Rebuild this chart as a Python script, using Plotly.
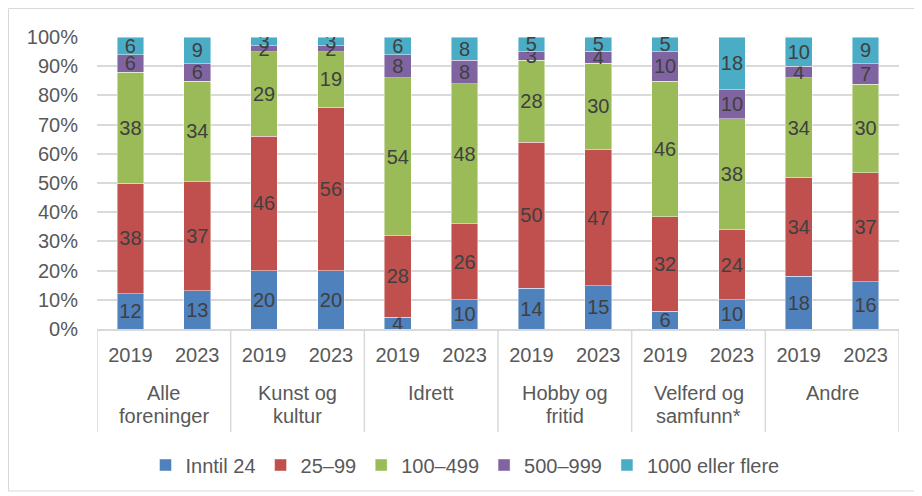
import plotly.graph_objects as go

groups = [["Alle", "foreninger"], ["Kunst og", "kultur"], ["Idrett"], ["Hobby og", "fritid"], ["Velferd og", "samfunn*"], ["Andre"]]
years = ["2019", "2023"]
series_names = ["Inntil 24", "25–99", "100–499", "500–999", "1000 eller flere"]

inntil_24 = [12, 13, 20, 20, 4, 10, 14, 15, 6, 10, 18, 16]
s25_99 = [38, 37, 46, 56, 28, 26, 50, 47, 32, 24, 34, 37]
s100_499 = [38, 34, 29, 19, 54, 48, 28, 30, 46, 38, 34, 30]
s500_999 = [6, 6, 2, 2, 8, 8, 3, 4, 10, 10, 4, 7]
s1000 = [6, 9, 3, 3, 6, 8, 5, 5, 5, 18, 10, 9]

colors = ["#4f81bd", "#c0504d", "#9bbb59", "#8064a2", "#4bacc6"]
series_values = [inntil_24, s25_99, s100_499, s500_999, s1000]

n_years = len(years)
xpos = list(range(len(groups) * n_years))
tick_text = [y for _ in groups for y in years]

FONT = "Liberation Sans, Arial, sans-serif"
TXT = "#595959"

# page is rendered with an 8px body offset; figure coords = page coords - 8
OFF = 8
W, H = 922 - OFF, 496 - OFF
L, R, T, B = 97 - OFF, 899 - OFF, 37 - OFF, 329 - OFF

def py(y):
    return (B - (y - OFF)) / (B - T)

fig = go.Figure()
for name, vals, col in zip(series_names, series_values, colors):
    fig.add_trace(go.Bar(
        x=xpos, y=vals, name=name,
        marker=dict(color=col, line=dict(color="rgba(255,255,255,0.6)", width=0.75)),
        text=vals, texttemplate="%{text}", textposition="inside",
        insidetextanchor="middle", textangle=0,
        textfont=dict(family=FONT, size=20, color="#404040"),
    ))

shapes = []
# group dividers below the axis
for gi in range(len(groups) + 1):
    xd = gi * n_years - 0.5
    shapes.append(dict(type="line", xref="x", yref="paper", x0=xd, x1=xd,
                       y0=0, y1=py(432), line=dict(color="#d9d9d9", width=1.5)))
# outer border of the chart
shapes.append(dict(type="rect", xref="paper", yref="paper",
                   x0=(0.5 - L) / (R - L), x1=(908 - L) / (R - L),
                   y0=py(491), y1=(B - 0.5) / (B - T),
                   line=dict(color="#d9d9d9", width=1), fillcolor="rgba(0,0,0,0)", layer="below"))

annotations = []
line_y = [393, 416]
for gi, lines in enumerate(groups):
    xc = gi * n_years + (n_years - 1) / 2
    for li, t in enumerate(lines):
        annotations.append(dict(x=xc, y=py(line_y[li]), xref="x", yref="paper",
                                text=t, showarrow=False, xanchor="center", yanchor="middle",
                                font=dict(family=FONT, size=20, color=TXT)))

fig.update_layout(
    width=W, height=H,
    barmode="stack", barnorm="percent", bargap=0.6,
    margin=dict(l=L, r=W - R, t=T, b=H - B, autoexpand=False),
    paper_bgcolor="white", plot_bgcolor="white",
    font=dict(family=FONT, size=20, color=TXT),
    uniformtext=dict(minsize=20, mode="show"),
    showlegend=True,
    legend=dict(orientation="h", x=(457 - L) / (R - L), xanchor="center", y=py(465), yanchor="middle",
                font=dict(family=FONT, size=20, color=TXT),
                traceorder="normal", itemwidth=30),
    xaxis=dict(range=[-0.5, len(xpos) - 0.5], tickvals=xpos, ticktext=tick_text,
               showgrid=False, zeroline=False, showline=True, linecolor="#d9d9d9",
               linewidth=1.5, ticks="", ticklabelstandoff=7,
               tickfont=dict(family=FONT, size=20, color=TXT)),
    yaxis=dict(range=[0, 100], dtick=10, ticksuffix="%", showgrid=True,
               gridcolor="#d9d9d9", gridwidth=1.5, zeroline=False, showline=False,
               tickfont=dict(family=FONT, size=20, color=TXT), ticklabelstandoff=18),
    shapes=shapes,
    annotations=annotations,
)

fig.write_html("out.html")
